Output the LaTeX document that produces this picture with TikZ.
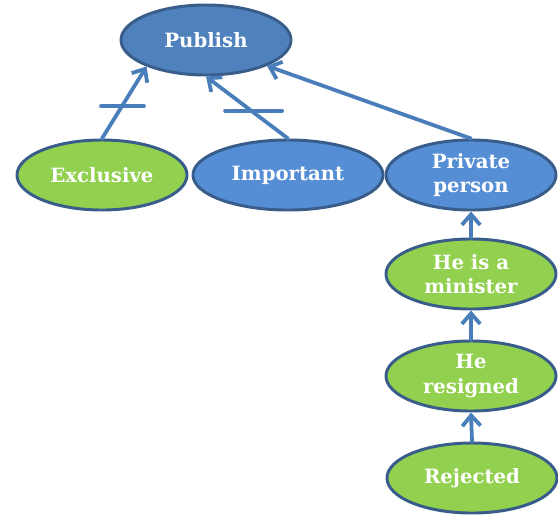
\documentclass[tikz,border=0pt]{standalone}
\usepackage{fontspec}
\setmainfont{DejaVu Serif}
\usetikzlibrary{shapes.geometric,arrows.meta}
\definecolor{pubblue}{RGB}{79,129,189}
\definecolor{nodeblue}{RGB}{85,142,213}
\definecolor{nodegreen}{RGB}{146,208,80}
\definecolor{rimblue}{RGB}{56,93,138}
\definecolor{linkblue}{RGB}{74,126,187}
\tikzset{
  bubble/.style={ellipse,draw=rimblue,line width=2.1pt,inner sep=0pt,
    minimum width=4.25cm,minimum height=1.75cm,align=center,text=white,
    font=\fontsize{14}{17.5}\selectfont\bfseries},
  link/.style={draw=linkblue,line width=2.7pt,
    -{Straight Barb[length=7.5pt,width=13pt,line width=2.7pt]}},
  bar/.style={draw=linkblue,line width=2.7pt}
}
\begin{document}
\begin{tikzpicture}[x=0.025cm,y=-0.025cm,line cap=round,line join=round]
  \useasboundingbox (0,0) rectangle (558,515);
  \node[bubble,fill=pubblue] (publish) at (206,40) {Publish};
  \node[bubble,fill=nodegreen] (exclusive) at (102,175) {Exclusive};
  \node[bubble,fill=nodeblue,minimum width=4.75cm] (important) at (288,175) {Important};
  \node[bubble,fill=nodeblue] (private) at (471,175) {Private\\person};
  \node[bubble,fill=nodegreen] (minister) at (471,274) {He is a\\minister};
  \node[bubble,fill=nodegreen] (resigned) at (471,376) {He\\resigned};
  \node[bubble,fill=nodegreen] (rejected) at (472,478) {Rejected};
  \draw[link] (exclusive.north) -- coordinate[pos=0.45] (barA) (publish.204);
  \draw[link] (important.north) -- coordinate[pos=0.45] (barB) (publish.south);
  \draw[link] (private.north) -- (publish.337);
  \draw[link] (minister.north) -- (private.south);
  \draw[link] (resigned.north) -- (minister.south);
  \draw[link] (rejected.north) -- (resigned.south);
  % crossbars
  \draw[bar] ([shift={(-21,0)}]barA) -- ([shift={(22,0)}]barA);
  \draw[bar] ([shift={(-26,0)}]barB) -- ([shift={(31,0)}]barB);
\end{tikzpicture}
\end{document}
